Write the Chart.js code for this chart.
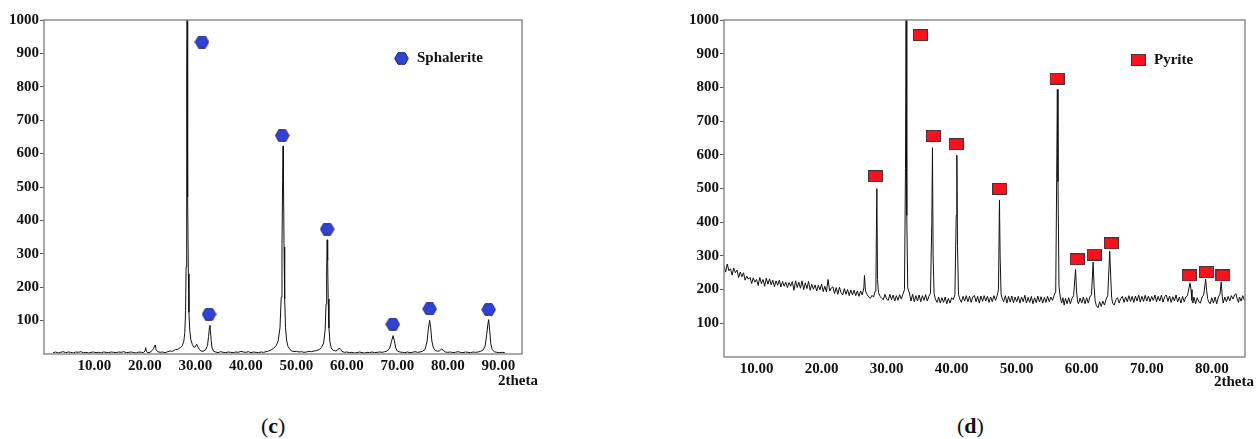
<!DOCTYPE html>
<html lang="en">
<head>
<meta charset="UTF-8" />
<title>XRD patterns (c) (d)</title>
<script src="https://cdn.jsdelivr.net/npm/chart.js"></script>
<style>
  body { margin:0; width:1260px; height:439px; background:#fff; position:relative; overflow:hidden; font-family:'Liberation Serif','Times New Roman',serif; }
  .panel { position:absolute; top:0; }
  .cap { position:absolute; top:413px; font-size:22px; color:#111; line-height:25px; }
</style>
</head>
<body>
<canvas id="chartC" class="panel" width="560" height="400" style="left:0"></canvas>
<canvas id="chartD" class="panel" width="580" height="400" style="left:680px"></canvas>
<div class="cap" style="left:261px">(<b>c</b>)</div>
<div class="cap" style="left:957px">(<b>d</b>)</div>

<script>
const yTicks = [100, 200, 300, 400, 500, 600, 700, 800, 900, 1000];
const xTicksC = [10, 20, 30, 40, 50, 60, 70, 80, 90];
const xTicksD = [10, 20, 30, 40, 50, 60, 70, 80];

// (c) sphalerite pattern, [2theta, counts]
const patternC = [
  [1.8,4],[2.3,6],[2.8,3],[3.3,5],[3.8,7],[4.3,4],[4.8,6],[5.3,5],[5.8,3],[6.3,6],[6.8,5],[7.3,7],[7.8,4],[8.3,5],[8.8,3],[9.3,5],[9.8,6],
  [10.3,4],[10.8,5],[11.3,3],[11.8,6],[12.3,5],[12.8,4],[13.3,6],[13.8,5],[14.3,4],[14.8,6],[15.3,5],[15.8,7],[16.3,4],[16.8,5],[17.3,6],[17.8,4],[18.3,3],[18.8,6],[19.3,5],[19.7,4],
  [20.0,9],[20.15,19],[20.3,7],[20.6,4],[21.0,5],[21.4,10],[21.7,16],[21.9,24],[22.05,27],[22.2,13],[22.5,7],[23.0,5],[23.5,6],[24.0,4],[24.5,7],[25.0,9],[25.5,8],[26.0,13],[26.5,14],
  [27.0,19],[27.4,25],[27.7,38],[27.9,65],[28.05,130],[28.15,260],[28.25,540],[28.3,820],[28.35,1000],[28.42,790],[28.5,470],[28.6,240],[28.72,125],[28.88,70],[29.1,42],[29.4,28],[29.7,20],
  [30.0,22],[30.25,29],[30.5,21],[30.8,13],[31.1,9],[31.5,8],[32.0,12],[32.4,26],[32.6,52],[32.78,80],[32.88,86],[32.98,70],[33.12,40],[33.3,18],[33.6,8],[34.0,6],[34.5,4],[35.0,7],[35.5,5],
  [36.0,4],[36.5,6],[37.0,5],[37.5,4],[38.0,6],[38.5,5],[39.0,8],[39.5,6],[40.0,5],[40.5,7],[41.0,4],[41.5,6],[42.0,5],[42.5,4],[43.0,6],[43.5,5],[44.0,7],[44.5,9],[45.0,12],[45.5,17],
  [46.0,25],[46.4,40],[46.75,78],[47.0,170],[47.15,320],[47.27,520],[47.36,623],[47.45,510],[47.56,320],[47.68,165],[47.85,80],[48.05,42],[48.35,22],[48.7,14],[49.1,9],[49.5,7],
  [50.0,8],[50.5,6],[51.0,7],[51.5,5],[52.0,6],[52.5,8],[53.0,7],[53.5,9],[54.0,10],[54.5,13],[55.0,20],[55.4,33],[55.7,72],[55.88,150],[56.0,255],[56.1,342],[56.2,280],[56.3,165],
  [56.45,78],[56.65,36],[56.9,18],[57.3,11],[57.8,9],[58.2,12],[58.5,18],[58.75,14],[59.0,8],[59.5,5],[60.0,6],[60.5,4],[61.0,5],[61.5,3],[62.0,4],[62.5,6],[63.0,4],[63.5,3],[64.0,5],
  [64.5,4],[65.0,6],[65.5,4],[66.0,5],[66.5,6],[67.0,5],[67.5,7],[68.0,9],[68.5,18],[68.85,38],[69.15,55],[69.4,40],[69.7,18],[70.0,9],[70.5,6],[71.0,5],[71.5,4],[72.0,6],[72.5,4],
  [73.0,5],[73.5,7],[74.0,5],[74.5,6],[75.0,8],[75.5,14],[75.9,38],[76.15,75],[76.4,101],[76.6,80],[76.85,38],[77.15,18],[77.5,11],[78.0,8],[78.4,10],[78.8,15],[79.1,11],[79.5,6],
  [80.0,5],[80.5,6],[81.0,4],[81.5,5],[82.0,7],[82.5,5],[83.0,4],[83.5,6],[84.0,5],[84.5,4],[85.0,6],[85.5,5],[86.0,6],[86.5,8],[87.0,12],[87.4,24],[87.7,58],[87.95,90],[88.1,103],
  [88.3,70],[88.5,32],[88.8,13],[89.2,7],[89.7,5],[90.3,4],[90.8,5],[91.3,4]
];
const markersC = [[31.3,934],[32.7,119],[47.2,654],[56.1,374],[69.1,89],[76.4,135],[88.1,133]];

// (d) pyrite pattern, [2theta, counts]
const patternD = [
  [5.0,270],[5.25,252],[5.5,276],[5.75,256],[6.0,262],[6.25,243],[6.5,264],[6.75,250],[7.0,258],[7.25,236],[7.5,252],[7.75,238],[8.0,250],[8.25,228],[8.5,240],[8.75,231],[9.0,236],[9.25,218],[9.5,235],[9.75,222],
  [10.0,230],[10.25,212],[10.5,236],[10.75,218],[11.0,230],[11.25,210],[11.5,234],[11.75,216],[12.0,232],[12.25,214],[12.5,228],[12.75,209],[13.0,226],[13.25,213],[13.5,228],[13.75,208],[14.0,224],[14.25,210],[14.5,222],[14.75,206],
  [15.0,221],[15.25,210],[15.5,224],[15.75,198],[16.0,226],[16.25,206],[16.5,222],[16.75,204],[17.0,226],[17.25,200],[17.5,220],[17.75,203],[18.0,224],[18.25,198],[18.5,216],[18.75,201],[19.0,214],[19.25,196],[19.5,213],[19.75,199],
  [20.0,216],[20.25,194],[20.5,210],[20.75,193],[21.0,230],[21.25,196],[21.5,205],[21.75,208],[22.0,188],[22.25,206],[22.5,186],[22.75,207],[23.0,191],[23.25,184],[23.5,203],[23.75,186],[24.0,200],[24.25,182],[24.5,199],[24.75,184],
  [25.0,198],[25.25,182],[25.5,196],[25.75,180],[26.0,196],[26.25,184],[26.5,205],[26.6,242],[26.75,196],[27.0,186],[27.25,178],[27.5,174],[27.75,183],[28.0,178],[28.25,196],[28.35,210],[28.5,500],[28.6,230],[28.75,192],
  [29.0,180],[29.25,174],[29.5,170],[29.75,186],[30.0,172],[30.25,168],[30.5,186],[30.75,170],[31.0,184],[31.25,166],[31.5,182],[31.75,168],[32.0,185],[32.25,172],[32.5,186],[32.75,200],[32.9,560],[33.0,1030],[33.1,420],
  [33.25,205],[33.5,190],[33.75,166],[34.0,186],[34.25,164],[34.5,182],[34.75,166],[35.0,184],[35.25,164],[35.5,182],[35.75,168],[36.0,185],[36.25,166],[36.5,180],[36.75,190],[36.95,400],[37.05,621],[37.15,300],
  [37.3,188],[37.5,172],[37.75,162],[38.0,178],[38.25,160],[38.5,176],[38.75,162],[39.0,178],[39.25,158],[39.5,174],[39.75,160],[40.0,176],[40.25,170],[40.5,185],[40.7,420],[40.8,599],[40.9,330],
  [41.05,186],[41.25,172],[41.5,162],[41.75,180],[42.0,166],[42.25,182],[42.5,164],[42.75,180],[43.0,162],[43.25,178],[43.5,183],[43.75,164],[44.0,180],[44.25,160],[44.5,181],[44.75,165],
  [45.0,182],[45.25,166],[45.5,180],[45.75,162],[46.0,178],[46.25,164],[46.5,182],[46.75,168],[47.0,182],[47.2,200],[47.35,465],[47.45,300],[47.6,186],[47.8,172],[48.0,164],[48.25,182],[48.5,160],[48.75,180],
  [49.0,163],[49.25,181],[49.5,161],[49.75,178],[50.0,164],[50.25,180],[50.5,160],[50.75,178],[51.0,164],[51.25,183],[51.5,160],[51.75,177],[52.0,162],[52.25,180],[52.5,158],[52.75,176],[53.0,161],[53.25,181],
  [53.5,163],[53.75,179],[54.0,160],[54.25,177],[54.5,162],[54.75,180],[55.0,164],[55.25,178],[55.5,168],[55.75,182],[56.0,195],[56.15,530],[56.25,794],[56.35,520],[56.5,210],[56.7,178],[56.9,160],
  [57.1,176],[57.3,154],[57.5,174],[57.75,158],[58.0,176],[58.25,158],[58.5,174],[58.75,182],[59.05,260],[59.2,196],[59.35,166],[59.5,158],[59.75,175],[60.0,160],[60.25,178],[60.5,158],[60.75,176],
  [61.0,160],[61.25,178],[61.5,185],[61.75,282],[61.9,208],[62.05,168],[62.25,152],[62.5,146],[62.75,164],[63.0,150],[63.25,166],[63.5,154],[63.75,172],[64.0,182],[64.3,314],[64.45,240],[64.6,176],
  [64.75,160],[65.0,154],[65.25,170],[65.5,176],[65.75,160],[66.0,174],[66.25,180],[66.5,162],[66.75,178],[67.0,164],[67.25,182],[67.5,165],[67.75,180],[68.0,162],[68.25,181],[68.5,166],[68.75,184],
  [69.0,163],[69.25,180],[69.5,165],[69.75,183],[70.0,166],[70.25,181],[70.5,164],[70.75,180],[71.0,168],[71.25,184],[71.5,164],[71.75,180],[72.0,166],[72.25,183],[72.5,163],[72.75,179],[73.0,184],
  [73.25,165],[73.5,181],[73.75,162],[74.0,179],[74.25,166],[74.5,184],[74.75,163],[75.0,178],[75.25,160],[75.5,180],[75.75,164],[76.0,178],[76.25,182],[76.65,220],[76.8,200],[76.95,168],
  [77.1,160],[77.25,178],[77.5,158],[77.75,176],[78.0,164],[78.25,160],[78.5,178],[78.75,184],[79.05,231],[79.2,198],[79.35,174],[79.5,164],[79.75,158],[80.0,176],[80.25,160],[80.5,178],
  [80.75,158],[81.0,178],[81.25,186],[81.45,223],[81.6,180],[81.75,160],[82.0,178],[82.25,164],[82.5,180],[82.75,166],[83.0,182],[83.25,172],[83.5,184],[83.7,188],[83.9,172],[84.1,162],
  [84.25,178],[84.5,166],[84.75,182],[85.0,168]
];
const markersD = [[28.3,536],[35.2,955],[37.2,656],[40.7,631],[47.4,499],[56.2,826],[59.3,290],[61.9,304],[64.55,337],[76.55,242],[79.2,252],[81.7,242]];

const SERIF = "'Liberation Serif', 'Times New Roman', serif";

function hexagonImage() {
  const c = document.createElement('canvas');
  c.width = 15; c.height = 13;
  const g = c.getContext('2d');
  g.beginPath();
  g.moveTo(0.7, 6.5); g.lineTo(4, 0.7); g.lineTo(11, 0.7);
  g.lineTo(14.3, 6.5); g.lineTo(11, 12.3); g.lineTo(4, 12.3);
  g.closePath();
  g.fillStyle = '#3143d6'; g.fill();
  g.strokeStyle = '#1d2670'; g.lineWidth = 1; g.stroke();
  return c;
}

function rectImage() {
  const c = document.createElement('canvas');
  c.width = 15; c.height = 12;
  const g = c.getContext('2d');
  g.fillStyle = '#ff101c';
  g.fillRect(0.5, 0.5, 14, 11);
  g.strokeStyle = '#3a3a3a'; g.lineWidth = 1;
  g.strokeRect(0.5, 0.5, 14, 11);
  return c;
}

// frame round the plot, the "2theta" note and the in-plot legend
const frameAndNotes = {
  id: 'frameAndNotes',
  afterDraw(chart, args, o) {
    const { ctx, chartArea: a } = chart;
    ctx.save();
    ctx.strokeStyle = '#8c8c8c';
    ctx.lineWidth = 1.5;
    ctx.strokeRect(a.left, a.top, a.right - a.left, a.bottom - a.top);
    ctx.fillStyle = '#111';
    ctx.font = 'bold 15px ' + SERIF;
    ctx.textBaseline = 'middle';
    ctx.fillText('2theta', a.right + o.noteDx, o.noteY);
    const sx = a.left + o.legendDx, sy = a.top + o.legendDy;
    ctx.drawImage(o.symbol, Math.round(sx - o.symbol.width / 2), Math.round(sy - o.symbol.height / 2));
    ctx.fillText(o.label, sx + o.textGap, sy);
    ctx.restore();
  }
};

function makeChart(id, pattern, markers, xMin, xMax, xTicks, symbol, padRight, xAxisHeight, notes) {
  return new Chart(document.getElementById(id), {
    type: 'line',
    data: {
      datasets: [
        {
          data: pattern.map(p => ({ x: p[0], y: p[1] })),
          borderColor: '#111', borderWidth: 1, pointRadius: 0, tension: 0, order: 2
        },
        {
          data: markers.map(p => ({ x: p[0], y: p[1] })),
          showLine: false, pointStyle: symbol, pointRadius: 7, order: 1
        }
      ]
    },
    options: {
      responsive: false,
      devicePixelRatio: 1,
      animation: false,
      layout: { padding: { top: 20, right: padRight, left: 0, bottom: 0 } },
      plugins: {
        legend: { display: false },
        tooltip: { enabled: false },
        frameAndNotes: notes
      },
      scales: {
        x: {
          type: 'linear', min: xMin, max: xMax,
          afterBuildTicks: s => { s.ticks = xTicks.map(v => ({ value: v })); },
          afterFit: s => { s.height = xAxisHeight; },
          grid: { display: false, drawTicks: false },
          border: { display: false },
          ticks: {
            color: '#111', padding: 3, maxRotation: 0, autoSkip: false,
            font: { family: SERIF, size: 15, weight: 'bold' },
            callback: v => Number(v).toFixed(2)
          }
        },
        y: {
          min: 0, max: 1000,
          afterBuildTicks: s => { s.ticks = yTicks.map(v => ({ value: v })); },
          afterFit: s => { s.width = 44; },
          grid: { display: true, drawOnChartArea: false, drawTicks: true, tickLength: 4, color: '#555' },
          border: { display: false },
          ticks: {
            color: '#111', padding: 1, autoSkip: false,
            font: { family: SERIF, size: 15, weight: 'bold' },
            callback: v => String(v)
          }
        }
      }
    },
    plugins: [frameAndNotes]
  });
}

makeChart('chartC', patternC, markersC, 0, 94.7, xTicksC, hexagonImage(), 38, 46,
  { symbol: hexagonImage(), label: 'Sphalerite', legendDx: 357, legendDy: 38, textGap: 16, noteDx: -24, noteY: 381 });
makeChart('chartD', patternD, markersD, 5, 85.1, xTicksD, rectImage(), 15, 43,
  { symbol: rectImage(), label: 'Pyrite', legendDx: 414, legendDy: 40, textGap: 16, noteDx: -31, noteY: 382 });
</script>
</body>
</html>
